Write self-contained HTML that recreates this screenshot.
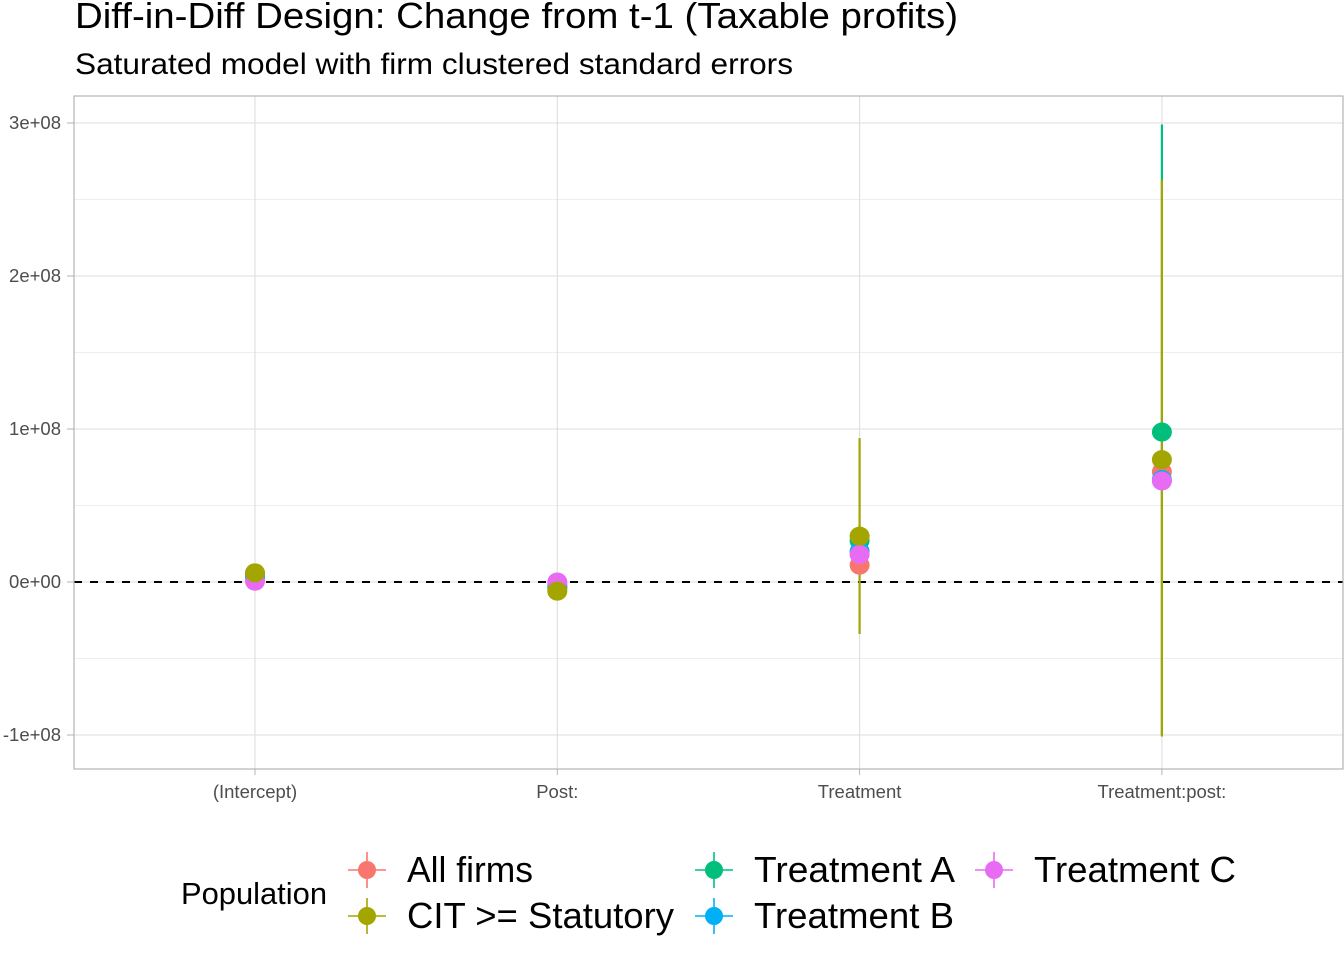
<!DOCTYPE html>
<html><head><meta charset="utf-8"><style>
body{margin:0;background:#fff;font-family:"Liberation Sans",Arial,sans-serif}
svg text{font-family:"Liberation Sans",Arial,sans-serif}
</style></head><body>
<svg id="chart" width="1344" height="960" xmlns="http://www.w3.org/2000/svg">
<text x="75" y="28" font-size="36" textLength="883" lengthAdjust="spacingAndGlyphs" fill="#000">Diff-in-Diff Design: Change from t-1 (Taxable profits)</text>
<text x="75" y="74" font-size="30" textLength="718" lengthAdjust="spacingAndGlyphs" fill="#000">Saturated model with firm clustered standard errors</text>
<g id="grid"></g><g id="marks"></g><g id="axes"></g><g id="legend"></g>
</svg>
<script>
const categories=["(Intercept)","Post:","Treatment","Treatment:post:"];
const seriesNames=["All firms","CIT >= Statutory","Treatment A","Treatment B","Treatment C"];
const seriesColors=["#F8766D","#A3A500","#00BF7D","#00B0F6","#E76BF3"];
const estAll=[0.03e8,-0.03e8,0.11e8,0.72e8];
const estCIT=[0.06e8,-0.06e8,0.30e8,0.80e8];
const estA=[0.05e8,-0.04e8,0.27e8,0.98e8];
const estB=[0.03e8,-0.02e8,0.20e8,0.67e8];
const estC=[0.005e8,0.0,0.18e8,0.66e8];
const loCIT=[0.06e8,-0.06e8,-0.34e8,-1.01e8];
const hiCIT=[0.06e8,-0.06e8,0.94e8,2.63e8];
const loA=[0.05e8,-0.04e8,0.27e8,-1.0e8];
const hiA=[0.05e8,-0.04e8,0.27e8,2.99e8];
const yTicks=[-1e8,0,1e8,2e8,3e8];
const yTickLabels=["-1e+08","0e+00","1e+08","2e+08","3e+08"];

const NS="http://www.w3.org/2000/svg";
const L=74,R=1343,T=96,B=769;
const y=v=>582-v/1e8*153;
const x=i=>255+i*302.3;
function mk(tag,attrs,parent){const e=document.createElementNS(NS,tag);for(const k in attrs)e.setAttribute(k,attrs[k]);parent.appendChild(e);return e;}
const grid=document.getElementById('grid'),marks=document.getElementById('marks'),axes=document.getElementById('axes'),leg=document.getElementById('legend');
mk('rect',{x:L,y:T,width:R-L,height:B-T,fill:'#fff'},grid);
for(let v=-1e8;v<=3e8;v+=0.5e8){const g=mk('line',{x1:L,x2:R,y1:y(v),y2:y(v),stroke:'#dedede','stroke-width':v%1e8===0?1.1:0.6},grid);

}
categories.forEach((c,i)=>{const g=mk('line',{x1:x(i),x2:x(i),y1:T,y2:B,stroke:'#dedede','stroke-width':1.1},grid);


const t=mk('text',{x:x(i),y:798,'font-size':18.5,fill:'#4d4d4d','text-anchor':'middle'},axes);t.textContent=c;


mk('line',{x1:x(i),x2:x(i),y1:B,y2:B+6,stroke:'#b3b3b3'},axes);});
yTicks.forEach((v,i)=>{const t=mk('text',{x:61,y:y(v)+6,'font-size':18.5,fill:'#4d4d4d','text-anchor':'end'},axes);t.textContent=yTickLabels[i];


mk('line',{x1:L-7,x2:L,y1:y(v),y2:y(v),stroke:'#b3b3b3'},axes);});
const ref=mk('line',{x1:L,x2:R,y1:y(0),y2:y(0),stroke:'#000','stroke-width':2,'stroke-dasharray':'8,8'},marks);


const bars=[[loA,hiA,2],[loCIT,hiCIT,1]];
bars.forEach(([lo,hi,s])=>lo.forEach((v,i)=>{const l=mk('line',{x1:x(i),x2:x(i),y1:y(lo[i]),y2:y(hi[i]),stroke:seriesColors[s],'stroke-width':2.2},marks);

}));
const ests=[estAll,estA,estB,estC,estCIT];const idx=[0,2,3,4,1];
ests.forEach((arr,k)=>arr.forEach((v,i)=>{const c=mk('ellipse',{cx:x(i),cy:y(v),rx:10,ry:9.5,fill:seriesColors[idx[k]]},marks);

}));
mk('rect',{x:L,y:T,width:R-L,height:B-T,fill:'none',stroke:'#b3b3b3','stroke-width':1.2},axes);
const lt=mk('text',{x:181,y:904,'font-size':31,fill:'#000',textLength:146,lengthAdjust:'spacingAndGlyphs'},leg);lt.textContent="Population";


const pos=[[367,870],[367,916],[714,870],[714,916],[994,870]];
const labW=[126,267,201,200,202];
seriesNames.forEach((n,i)=>{const [kx,ky]=pos[i];const g=mk('g',{},leg);


mk('line',{x1:kx-19,x2:kx+19,y1:ky,y2:ky,stroke:seriesColors[i],'stroke-width':1.6},g);
mk('line',{x1:kx,x2:kx,y1:ky-18,y2:ky+18,stroke:seriesColors[i],'stroke-width':1.6},g);
mk('circle',{cx:kx,cy:ky,r:9,fill:seriesColors[i]},g);
const t=mk('text',{x:kx+40,y:ky+12,'font-size':36,fill:'#000',textLength:labW[i],lengthAdjust:'spacingAndGlyphs'},g);t.textContent=n;});
</script>
</body></html>
